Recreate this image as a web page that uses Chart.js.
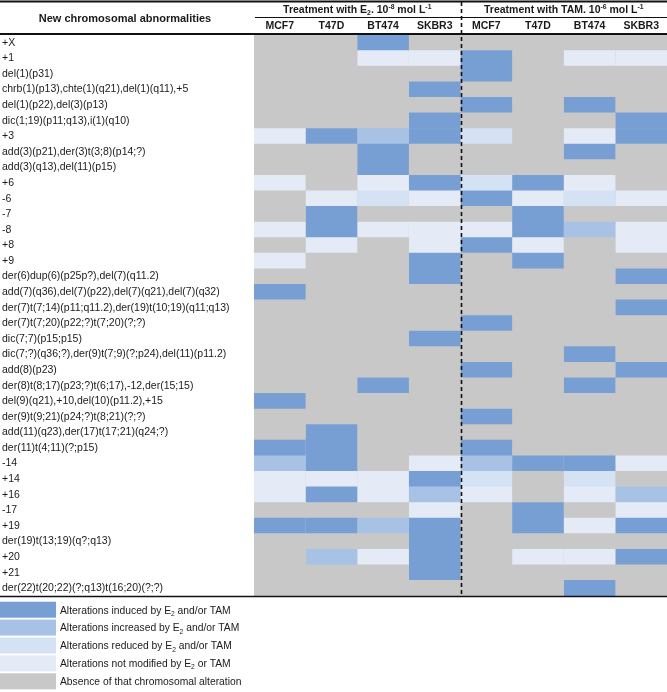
<!DOCTYPE html>
<html><head><meta charset="utf-8">
<script src="https://cdn.jsdelivr.net/npm/chart.js@4/dist/chart.umd.min.js"></script>
<style>html,body{margin:0;padding:0;background:#fff}</style>
</head><body>
<canvas id="c" width="667" height="692"></canvas>
<script>
const rowLabels = [
  '+X','+1','del(1)(p31)','chrb(1)(p13),chte(1)(q21),del(1)(q11),+5','del(1)(p22),del(3)(p13)',
  'dic(1;19)(p11;q13),i(1)(q10)','+3','add(3)(p21),der(3)t(3;8)(p14;?)','add(3)(q13),del(11)(p15)',
  '+6','-6','-7','-8','+8','+9','der(6)dup(6)(p25p?),del(7)(q11.2)',
  'add(7)(q36),del(7)(p22),del(7)(q21),del(7)(q32)','der(7)t(7;14)(p11;q11.2),der(19)t(10;19)(q11;q13)',
  'der(7)t(7;20)(p22;?)t(7;20)(?;?)','dic(7;7)(p15;p15)','dic(7;?)(q36;?),der(9)t(7;9)(?;p24),del(11)(p11.2)',
  'add(8)(p23)','der(8)t(8;17)(p23;?)t(6;17),-12,der(15;15)','del(9)(q21),+10,del(10)(p11.2),+15',
  'der(9)t(9;21)(p24;?)t(8;21)(?;?)','add(11)(q23),der(17)t(17;21)(q24;?)','der(11)t(4;11)(?;p15)',
  '-14','+14','+16','-17','+19','der(19)t(13;19)(q?;q13)','+20','+21','der(22)t(20;22)(?;q13)t(16;20)(?;?)'
];
const columnLabels = ['MCF7','T47D','BT474','SKBR3','MCF7','T47D','BT474','SKBR3'];
// codes: 0 absent, 1 not modified, 2 reduced, 3 increased, 4 induced
const e2_MCF7  = [0,0,0,0,0,0,1,0,0,1,0,0,1,0,1,0,4,0,0,0,0,0,0,4,0,0,4,3,1,1,0,4,0,0,0,0];
const e2_T47D  = [0,0,0,0,0,0,4,0,0,0,1,4,4,1,0,0,0,0,0,0,0,0,0,0,0,4,4,4,1,4,0,4,0,3,0,0];
const e2_BT474 = [4,1,0,0,0,0,3,4,4,1,2,0,1,0,0,0,0,0,0,0,0,0,4,0,0,0,0,0,1,1,0,3,0,1,0,0];
const e2_SKBR3 = [0,1,0,4,0,4,4,0,0,4,1,0,1,1,4,4,0,0,0,4,0,0,0,0,0,0,0,1,4,3,1,4,4,4,4,0];
const tam_MCF7 = [0,4,4,0,4,0,2,0,0,2,4,0,1,4,0,0,0,0,4,0,0,4,0,0,4,0,4,3,2,1,0,0,0,0,0,0];
const tam_T47D = [0,0,0,0,0,0,0,0,0,4,1,4,4,1,4,0,0,0,0,0,0,0,0,0,0,0,0,4,0,0,4,4,0,1,0,0];
const tam_BT474= [0,1,0,0,4,0,1,4,0,1,2,0,3,0,0,0,0,0,0,0,4,0,4,0,0,0,0,4,2,1,0,1,0,1,0,4];
const tam_SKBR3= [0,1,0,0,0,4,4,0,0,0,1,0,1,1,0,4,0,4,0,0,0,4,0,0,0,0,0,1,0,3,1,4,0,4,0,0];
const legendLabels = [
  [['Alterations induced by E'],['2','sub'],[' and/or TAM']],
  [['Alterations increased by E'],['2','sub'],[' and/or TAM']],
  [['Alterations reduced by E'],['2','sub'],[' and/or TAM']],
  [['Alterations not modified by E'],['2','sub'],[' or TAM']],
  [['Absence of that chromosomal alteration']]
];
const legendCodes = [4,3,2,1,0];
const palette = ['#c8c8c8','#e4ebf6','#d4e2f4','#a8c2e6','#789fd4'];

const columns = [e2_MCF7,e2_T47D,e2_BT474,e2_SKBR3,tam_MCF7,tam_T47D,tam_BT474,tam_SKBR3];
const FONT = "'Liberation Sans', Arial, sans-serif";
const TXT = '#1a1a1a';

function drawRich(ctx, segs, x, y, size, bold, align) {
  const w = bold ? 'bold ' : '';
  const parts = segs.map(s => {
    const t = s[0], k = s[1];
    const fs = k ? size * 0.65 : size;
    ctx.font = w + fs + 'px ' + FONT;
    return {t, k, fs, width: ctx.measureText(t).width};
  });
  const total = parts.reduce((a, p) => a + p.width, 0);
  let cx = align === 'center' ? x - total / 2 : x;
  ctx.textBaseline = 'alphabetic';
  ctx.textAlign = 'left';
  parts.forEach(p => {
    ctx.font = w + p.fs + 'px ' + FONT;
    let dy = 0;
    if (p.k === 'sub') dy = size * 0.22;
    if (p.k === 'sup') dy = -size * 0.38;
    ctx.fillText(p.t, cx, y + dy);
    cx += p.width;
  });
}

const decor = {
  id: 'decor',
  beforeDatasetsDraw(chart) {
    const {ctx, chartArea: a} = chart;
    ctx.save();
    ctx.fillStyle = palette[0];
    ctx.fillRect(a.left, a.top, a.right - a.left, a.bottom - a.top);
    ctx.restore();
  },
  afterDraw(chart) {
    const {ctx, chartArea: a, scales} = chart;
    const x = scales.x;
    ctx.save();
    ctx.fillStyle = TXT;
    ctx.strokeStyle = '#111';
    ctx.lineWidth = 2;
    ctx.beginPath(); ctx.moveTo(0, 1.5); ctx.lineTo(667, 1.5); ctx.stroke();
    ctx.beginPath(); ctx.moveTo(0, a.top - 1); ctx.lineTo(667, a.top - 1); ctx.stroke();
    ctx.lineWidth = 1.5;
    ctx.beginPath(); ctx.moveTo(0, a.bottom + 0.5); ctx.lineTo(667, a.bottom + 0.5); ctx.stroke();
    ctx.lineWidth = 1;
    ctx.beginPath(); ctx.moveTo(a.left + 1, 17.5); ctx.lineTo(a.right, 17.5); ctx.stroke();
    const mid = Math.round(x.getPixelForValue(4)) + 0.5;
    ctx.lineWidth = 1.6;
    ctx.setLineDash([4, 3]);
    ctx.beginPath(); ctx.moveTo(mid, 2); ctx.lineTo(mid, a.bottom); ctx.stroke();
    ctx.setLineDash([]);
    drawRich(ctx, [['New chromosomal abnormalities']], 125, 22, 11, true, 'center');
    drawRich(ctx, [['Treatment with E'],['2','sub'],['. 10'],['-8','sup'],[' mol L'],['-1','sup']],
      x.getPixelForValue(2), 13, 10.5, true, 'center');
    drawRich(ctx, [['Treatment with TAM. 10'],['-6','sup'],[' mol L'],['-1','sup']],
      x.getPixelForValue(6), 13, 10.5, true, 'center');
    legendLabels.forEach((segs, i) => {
      const y0 = 601.7 + i * 17.9;
      ctx.fillStyle = palette[legendCodes[i]];
      ctx.fillRect(0, y0, 56, 16);
      ctx.fillStyle = TXT;
      drawRich(ctx, segs, 60, y0 + 11.8, 10.3, false, 'left');
    });
    ctx.restore();
  }
};

const datasets = columns.map((col, c) => ({
  label: columnLabels[c],
  data: col.map(() => [c, c + 1]),
  backgroundColor: col.map(code => palette[code]),
  borderWidth: 0,
  grouped: false,
  barPercentage: 1.04,
  categoryPercentage: 1
}));

new Chart(document.getElementById('c'), {
  type: 'bar',
  data: {labels: rowLabels, datasets},
  options: {
    responsive: false,
    animation: false,
    indexAxis: 'y',
    layout: {padding: {left: 2, right: 0, top: 17, bottom: 96}},
    plugins: {legend: {display: false}, tooltip: {enabled: false}},
    scales: {
      x: {
        type: 'linear', position: 'top', min: 0, max: 8,
        grid: {display: false, drawTicks: false}, border: {display: false},
        afterBuildTicks: s => { s.ticks = columnLabels.map((_, i) => ({value: i + 0.5})); },
        afterFit: s => { s.height = 18; },
        ticks: {
          autoSkip: false, maxRotation: 0, padding: 3, color: TXT,
          font: {family: FONT, size: 10.5, weight: 'bold'},
          callback: (v, i) => columnLabels[i]
        }
      },
      y: {
        type: 'category',
        grid: {display: false, drawTicks: false}, border: {display: false},
        afterFit: s => { s.width = 252; },
        ticks: {
          autoSkip: false, crossAlign: 'far', padding: 0, color: TXT,
          font: {family: FONT, size: 10.5}
        }
      }
    }
  },
  plugins: [decor]
});
</script>
</body></html>
